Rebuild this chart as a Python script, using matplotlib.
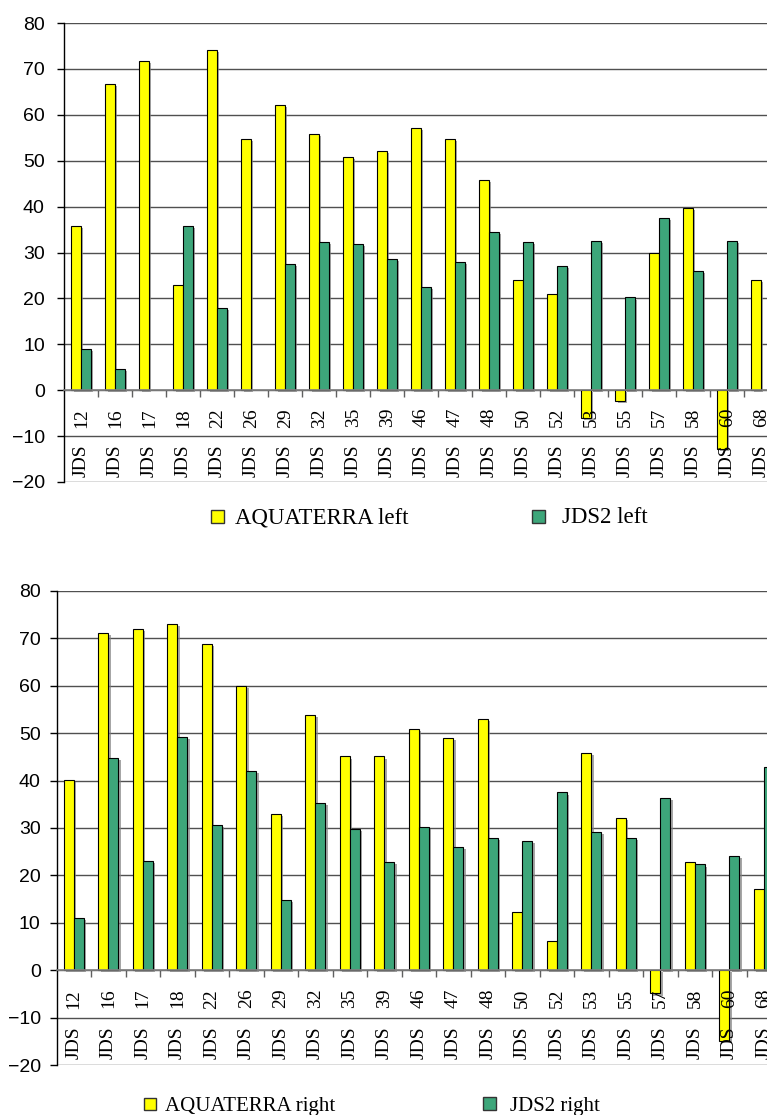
import matplotlib
matplotlib.use("Agg")
import matplotlib.pyplot as plt
import matplotlib.patheffects as pe
from matplotlib.patches import Rectangle
import numpy as np

stations = ["12", "16", "17", "18", "22", "26", "29", "32", "35", "39", "46",
            "47", "48", "50", "52", "53", "55", "57", "58", "60", "68"]

aqua_left = [35.8, 66.8, 71.8, 23.0, 74.2, 54.8, 62.2, 55.9, 50.9, 52.1, 57.2,
             54.8, 45.9, 24.1, 20.9, -6.0, -2.3, 29.8, 39.8, -12.9, 24.1]
jds2_left = [8.9, 4.6, np.nan, 35.7, 17.9, np.nan, 27.5, 32.2, 31.8, 28.6, 22.5,
             28.0, 34.4, 32.2, 27.1, 32.5, 20.2, 37.6, 26.0, 32.5, np.nan]

aqua_right = [40.2, 71.2, 71.9, 73.1, 68.9, 60.0, 32.9, 53.9, 45.1, 45.1, 50.9,
              48.9, 53.1, 12.2, 6.1, 45.9, 32.1, -4.9, 22.8, -15.0, 17.2]
jds2_right = [11.0, 44.7, 23.0, 49.3, 30.6, 42.1, 14.9, 35.2, 29.8, 22.8, 30.2,
              26.0, 27.9, 27.2, 37.5, 29.1, 27.9, 36.3, 22.3, 24.1, 42.9]

YELLOW = "#ffff00"
GREEN = "#3da67a"
W, H = 767, 1115

fig = plt.figure(figsize=(W / 100, H / 100), dpi=100)

def _px_axes(left, top, right, bottom):
    return fig.add_axes([left / W, 1 - bottom / H, (right - left) / W, (bottom - top) / H])

shadow = [pe.SimplePatchShadow(offset=(1.5, -1.5), shadow_rgbFace="#808080", alpha=0.7), pe.Normal()]

def _chart(ax, a, b, ypad):
    x = np.arange(len(stations))
    bw = 0.29
    for vals, off, col in [(a, -bw / 2, YELLOW), (b, bw / 2, GREEN)]:
        bars = ax.bar(x + off, vals, width=bw, color=col, edgecolor="black", linewidth=0.8, zorder=2)
        for r in bars: r.set_path_effects(shadow)
    ax.set_xlim(-0.5, len(stations) - 0.5)
    ax.set_ylim(-20, 80)
    ax.set_yticks(np.arange(-20, 81, 10))
    ax.yaxis.grid(True, color="#505050", linewidth=1.0, linestyle="-")
    ax.xaxis.grid(False)
    ax.set_axisbelow(True)
    for s in ("top", "right"): ax.spines[s].set_visible(False)
    ax.spines["left"].set_color("black"); ax.spines["left"].set_linewidth(1.0)
    ax.spines["bottom"].set_position(("data", 0))
    ax.spines["bottom"].set_color("#808080"); ax.spines["bottom"].set_linewidth(1.2)
    ax.set_xticks([])
    ax.set_xticks(x[:-1] + 0.5, minor=True)
    ax.tick_params(axis="x", which="minor", direction="out", length=5, width=1, color="#606060")
    ax.tick_params(axis="y", direction="out", length=5, width=1, color="black", pad=ypad)
    for t in ax.get_yticklabels():
        t.set_fontfamily("Liberation Sans"); t.set_fontsize(14)
    for i, s in enumerate(stations):
        ax.text(i, -6.0, s, rotation=90, ha="center", va="center",
                family="Liberation Serif", fontsize=14, zorder=5)
        ax.text(i, -15.3, "JDS", rotation=90, ha="center", va="center",
                family="Liberation Serif", fontsize=14, zorder=5)

def _legend_item(x0, size, ybase, ycen, col, label, fs, tx):
    fig.add_artist(Rectangle((x0 / W, 1 - (ycen + size / 2) / H), size / W, size / H,
                             transform=fig.transFigure, facecolor=col, edgecolor="#333333", linewidth=1.0))
    fig.text(tx / W, 1 - ybase / H, label, family="Liberation Serif", fontsize=fs, va="baseline", ha="left")

ax1 = _px_axes(64.3, 23, 64.3 + 21 * 34.0, 482)
_chart(ax1, aqua_left, jds2_left, 9)
ax2 = _px_axes(56.7, 591, 56.7 + 21 * 34.5, 1065)
_chart(ax2, aqua_right, jds2_right, 6.5)

_legend_item(211, 13, 523, 516, YELLOW, "AQUATERRA left", 16.5, 235)
_legend_item(532, 13, 523, 516, GREEN, "JDS2 left", 16.5, 562)
_legend_item(144, 12, 1111, 1103.5, YELLOW, "AQUATERRA right", 15, 165)
_legend_item(483, 13, 1111, 1103.5, GREEN, "JDS2 right", 15, 510)

fig.savefig("out.png", dpi=100)
